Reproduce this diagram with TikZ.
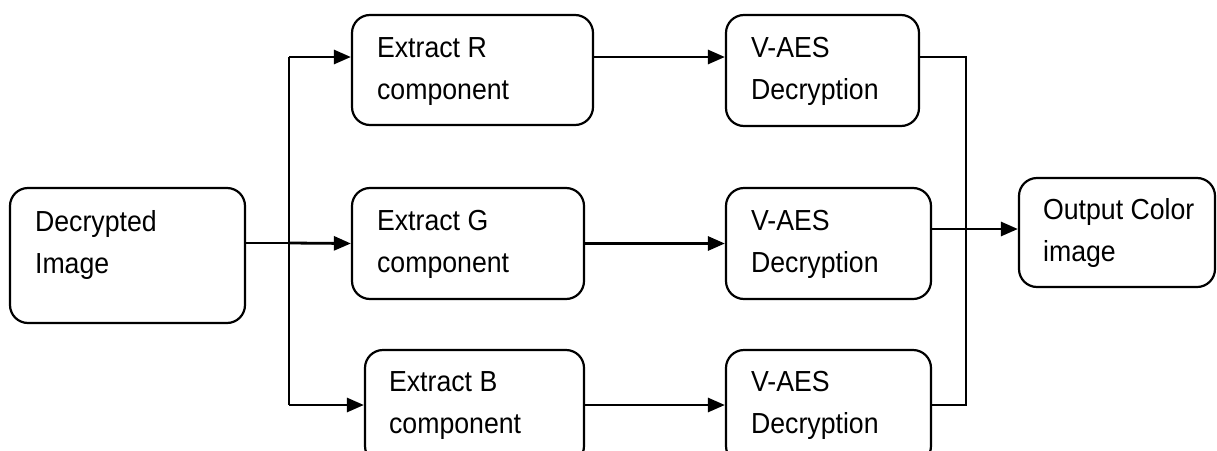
\documentclass[tikz,border=0pt]{standalone}
\usepackage{fontspec}
\setmainfont[FakeStretch=0.92]{Liberation Sans}
\usetikzlibrary{arrows.meta,calc}
\begin{document}
\begin{tikzpicture}[x=1pt,y=-1pt,
  blk/.style={draw=black, line width=2.2pt, rounded corners=18pt, inner sep=0pt},
  % captions are placed by the baseline of their second line
  lbl/.style={anchor=base west, inner sep=0pt, align=left, text=black,
    font=\fontsize{29}{42}\selectfont},
  arr/.style={draw=black, line width=2.8pt,
    -{Triangle[length=17pt,width=14pt]}},
  link/.style={draw=black, line width=2.8pt},
  merge/.style={draw=black, line width=2pt}]
\clip (0,0) rectangle (1217,450);
\fill[white] (0,0) rectangle (1217,450);

% processing blocks
\node[blk, minimum width=235pt, minimum height=135pt] (dec) at (127.5,255.5) {};
\node[blk, minimum width=241pt, minimum height=110pt] (exR) at (472.5,70) {};
\node[blk, minimum width=232pt, minimum height=111pt] (exG) at (468,243.5) {};
\node[blk, minimum width=219pt, minimum height=114pt] (exB) at (474.5,407) {};
\node[blk, minimum width=193pt, minimum height=111pt] (vaR) at (822.5,70.5) {};
\node[blk, minimum width=205pt, minimum height=111pt] (vaG) at (828.5,243.5) {};
\node[blk, minimum width=205pt, minimum height=114pt] (vaB) at (828.5,407) {};
\node[blk, minimum width=196pt, minimum height=109pt] (out) at (1117,232.5) {};

% block captions
\node[lbl] (decT) at ($(dec.north west)+(26,87)$) {Decrypted\\Image};
\node[lbl] (exRT) at ($(exR.north west)+(26,86)$) {Extract R\\component};
\node[lbl] (exGT) at ($(exG.north west)+(26,86)$) {Extract G\\component};
\node[lbl] (exBT) at ($(exB.north west)+(25,85)$) {Extract B\\component};
\node[lbl] (vaRT) at ($(vaR.north west)+(26,86)$) {V-AES\\Decryption};
\node[lbl] (vaGT) at ($(vaG.north west)+(26,86)$) {V-AES\\Decryption};
\node[lbl] (vaBT) at ($(vaB.north west)+(26,85)$) {V-AES\\Decryption};
\node[lbl] (outT) at ($(out.north west)+(25,85)$) {Output Color\\image};

% split points
\coordinate (sp) at (289,243);
\coordinate (bt) at (289,57);
\coordinate (bb) at (289,405);
% merge points
\coordinate (mt) at (966,57);
\coordinate (mg) at (966,229);
\coordinate (mb) at (966,405);

% fan-out into the three channels
\draw[link] (dec.east |- sp) -- (sp);
\draw[arr] (sp) -- (exG.west);
\draw[link] (bt) -- (bb);
\draw[arr] (bt) -- (bt -| exR.west);
\draw[arr] (bb) -- (bb -| exB.west);

% channel to decryption
\draw[arr] (exR.east |- bt) -- (vaR.west |- bt);
\draw[arr] (exG.east) -- (vaG.west);
\draw[arr] (exB.east |- bb) -- (vaB.west |- bb);

% merge into the output
\draw[merge] (vaR.east |- mt) -- (mt) -- (mb) -- (vaB.east |- mb);
\draw[arr] (vaG.east |- mg) -- (out.west |- mg);
\end{tikzpicture}
\end{document}
